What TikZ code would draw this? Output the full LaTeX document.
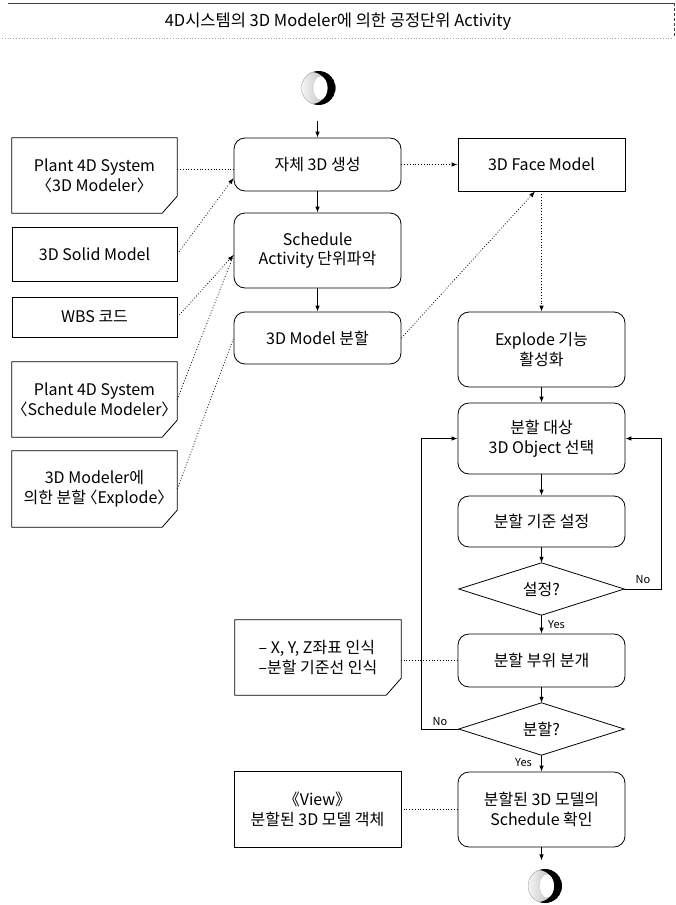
\documentclass[tikz,border=0pt]{standalone}
\usepackage{fontspec}
\setmainfont{Noto Sans CJK KR}
\usetikzlibrary{arrows.meta,shapes.geometric}
\newcommand{\foldbox}[1]{\draw[boxline] (#1.north west) -- (#1.north east) -- ([yshift=17pt]#1.south east) -- ([xshift=-15pt]#1.south east) -- (#1.south west) -- cycle;}
\newcommand{\diamondbox}[1]{\draw[boxline] (#1.west) -- (#1.north) -- (#1.east) -- (#1.south) -- cycle;}
\newcommand{\lab}{\kern-0.5em〈}
\newcommand{\rab}{〉\kern-0.5em}
\newcommand{\moon}[1]{%
  \begin{scope}
    \clip (#1.center) circle (17);
    \shade[left color=gray!8, right color=gray!70] ([xshift=-17pt]#1.center) rectangle ([xshift=17pt,yshift=17pt]#1.center |- #1.north);
    \shade[left color=gray!8, right color=gray!70] ([xshift=-17pt,yshift=-20pt]#1.center) rectangle ([xshift=17pt,yshift=20pt]#1.center);
    \fill[black, even odd rule] (#1.center) circle (17) ([xshift=-7pt]#1.center) circle (16);
    \fill[white] ([xshift=2pt]#1.center) ellipse (7 and 11.5);
  \end{scope}}
\begin{document}
\begin{tikzpicture}[x=1pt,y=-1pt,
  every node/.style={font=\fontsize{16}{20}\selectfont, align=center, inner sep=0pt},
  boxline/.style={line width=0.8pt, draw=black},
  rbox/.style={draw, line width=0.8pt, rounded corners=11pt, minimum width=167pt},
  sbox/.style={draw, line width=0.8pt, minimum width=167pt},
  dbox/.style={minimum width=165pt},
  dia/.style={minimum width=165pt, minimum height=52pt},
  flow/.style={line width=0.8pt, -{Latex[length=6pt,width=4.5pt]}},
  dotline/.style={line width=0.8pt, dotted},
  dotarrow/.style={dotline, -{Latex[length=6pt,width=4.5pt]}},
  yn/.style={font=\fontsize{11}{13}\selectfont},
  ttl/.style={font=\fontsize{16.5}{20}\selectfont},
]
\useasboundingbox (0,0) rectangle (676,905);

% title
\node[ttl] (title) at (338,22) {4D시스템의 3D Modeler에 의한 공정단위 Activity};
\draw[line width=0.6pt, black!75] (8,3) -- (674,3);
\draw[line width=0.6pt, black!75, densely dashed] (674,3) -- (674,38);
\draw[line width=0.8pt, gray!70, dotted] (2,38) -- (674,38);

% left column (documents / inputs)
\node[dbox, minimum height=75pt] (pd1) at (94.5,175.5) {Plant 4D System\\\lab 3D Modeler\rab};
\foldbox{pd1}
\node[sbox, minimum width=165pt, minimum height=54pt] (solid) at (94.5,254) {3D Solid Model};
\node[sbox, minimum width=165pt, minimum height=40pt] (wbs) at (94.5,317) {WBS 코드};
\node[dbox, minimum height=75pt] (pd2) at (94.5,399.5) {Plant 4D System\\\lab Schedule Modeler\rab};
\foldbox{pd2}
\node[dbox, minimum height=76pt] (expl) at (94.5,489) {3D Modeler에\\의한 분할 \lab Explode\rab};
\foldbox{expl}

% middle column
\node[circle, minimum size=34pt] (start) at (318.5,88) {};
\moon{start}
\coordinate (s0) at (317.5,121);
\node[rbox, minimum height=53pt] (b1) at (317.5,164.5) {자체 3D 생성};
\node[rbox, minimum height=75pt] (b2) at (317.5,250.5) {Schedule\\Activity 단위파악};
\node[rbox, minimum height=52pt] (b3) at (317.5,338) {3D Model 분할};
\node[dbox, minimum width=166pt, minimum height=75pt, align=left] (xyz) at (318,657.5) {– X, Y, Z좌표 인식\\–분할 기준선 인식};
\foldbox{xyz}
\node[sbox, minimum height=76pt] (view) at (317.5,809) {《View》\\분할된 3D 모델 객체};

% right column
\node[sbox, minimum height=53pt] (face) at (541.5,164.5) {3D Face Model};
\node[rbox, minimum height=75pt] (explode) at (541.5,349.5) {Explode 기능\\활성화};
\node[rbox, minimum height=71pt] (select) at (541.5,438.5) {분할 대상\\3D Object 선택};
\node[rbox, minimum height=51pt] (crit) at (541.5,521.5) {분할 기준 설정};
\node[dia] (d1) at (541.5,589) {설정?};
\diamondbox{d1}
\node[rbox, minimum height=53pt] (split) at (541.5,660.5) {분할 부위 분개};
\node[dia] (d2) at (541.5,729) {분할?};
\diamondbox{d2}
\node[rbox, minimum height=75pt] (confirm) at (541.5,809.5) {분할된 3D 모델의\\Schedule 확인};
\coordinate (e0) at ([yshift=-13pt]confirm.south);
\node[circle, minimum size=34pt] (end) at (545,886) {};
\moon{end}

% solid flow
\draw[flow] (s0) -- (b1.north);
\draw[flow] (b1) -- (b2);
\draw[flow] (b2) -- (b3);
\draw[flow] (explode) -- (select);
\draw[flow] (select) -- (crit);
\draw[flow] (crit.south) -- (d1.north);
\draw[flow] (d1.south) -- (split.north);
\draw[flow] (split.south) -- (d2.north);
\draw[flow] (d2.south) -- (confirm.north);
\draw[flow] (confirm.south) -- (e0);
\draw[flow] (d1.east) -- ++(37,0) |- (select.east);
\draw[flow] (d2.west) -- ++(-37,0) |- (select.west);

% labels
\node[yn, anchor=west] (yes1) at (548,625) {Yes};
\node[yn, anchor=east] (yes2) at (532,763) {Yes};
\node[yn] (no1) at (643,580) {No};
\node[yn] (no2) at (440,722) {No};

% dotted connectors
\draw[dotline] ([yshift=6.5pt]pd1.east) -- ([yshift=6.5pt]pd1.east -| b1.west);
\draw[dotarrow] (solid.east) -- ([yshift=-13.5pt]b1.west);
\draw[dotarrow] (wbs.east) -- ([yshift=-4.5pt]b2.west);
\draw[dotline] (pd2.east) -- ([yshift=-4.5pt]b2.west);
\draw[dotline] (expl.east) -- (b3.west);
\draw[dotarrow] (b1.east) -- (face.west);
\draw[dotarrow] (b3.east) -- ([xshift=-6.5pt]face.south);
\draw[dotarrow] (face.south) -- (explode.north);
\draw[dotline] (split.west) -- (split.west -| xyz.east);
\draw[dotline] (confirm.west) -- (confirm.west -| view.east);
\end{tikzpicture}
\end{document}
